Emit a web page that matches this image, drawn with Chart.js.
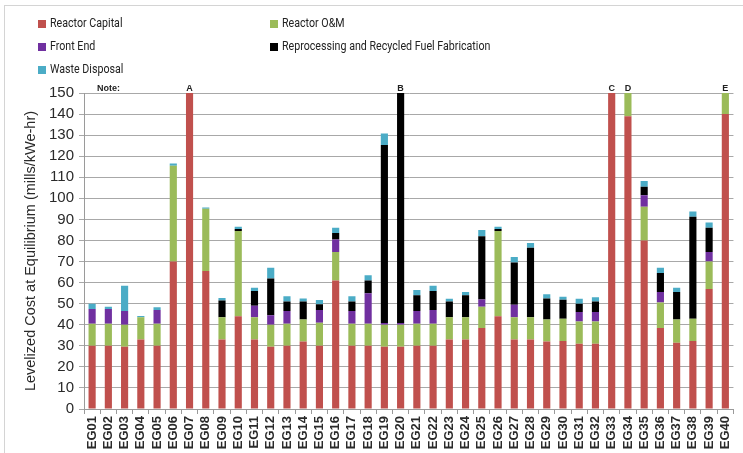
<!DOCTYPE html>
<html>
<head>
<meta charset="utf-8">
<script src="https://cdn.jsdelivr.net/npm/chart.js@4"></script>
<style>
html,body{margin:0;padding:0;background:#fff;}
#wrap{position:relative;width:743px;height:453px;}
</style>
</head>
<body>
<div id="wrap"><canvas id="c" width="743" height="453"></canvas></div>
<script>
const categories = ["EG01","EG02","EG03","EG04","EG05","EG06","EG07","EG08","EG09","EG10",
  "EG11","EG12","EG13","EG14","EG15","EG16","EG17","EG18","EG19","EG20",
  "EG21","EG22","EG23","EG24","EG25","EG26","EG27","EG28","EG29","EG30",
  "EG31","EG32","EG33","EG34","EG35","EG36","EG37","EG38","EG39","EG40"];
const seriesNames = ["Reactor Capital","Reactor O&M","Front End","Reprocessing and Recycled Fuel Fabrication","Waste Disposal"];
const seriesColors = ["#C0504D","#9BBB59","#7030A0","#000000","#4BACC6"];
const reactorCapital = [30,30,29.5,33,30,70,150,65.5,33,44, 33,29.5,30,32,30,61,30,30,29.5,29.5, 30,30,33,33,38.5,44,33,33,32,32.3, 31,31,150,139,80,38.5,31.5,32.3,57,140];
const reactorOM      = [10.5,10.5,10.5,10.5,10.5,45.5,0,29.5,10.5,40.5, 10.5,10.5,10.5,10.5,11,13.5,10.5,10.5,10.5,10.5, 10.5,10.5,10.5,10.5,10,40.5,10.5,10.5,10.5,10.5, 10.5,10.5,0,11,16,12,11,10.5,13,10];
const frontEnd       = [7,7,6.5,0,6.5,0,0,0,0,0, 5.5,4.5,6,0,6,6,6,14.5,0.8,0.8, 6,6.5,0,0,3.5,0,6,0,0,0, 4.5,4.5,0,0,5.5,5,0,0,4.5,0];
const reprocessing   = [0,0,0,0,0,0,0,0,8,1, 7,17.5,4.5,8.5,2.7,3,4.5,6,84.5,109.2, 7.5,9,7.5,10.5,30,1,20,33,10,9, 4,5,0,0,4,9,13,48.5,11.5,0];
const wasteDisposal  = [2.5,1,12,0.7,1.3,1,0,0.6,1.2,1, 1.5,5,2.5,1.5,2,2.5,2.5,2.5,5.5,0, 2.5,2.5,1.3,1.5,3,1,2.7,2.3,2,1.5, 2.3,2,0,0,2.7,2.5,2,2.5,2.5,0];
const yTicks = [0,10,20,30,40,50,60,70,80,90,100,110,120,130,140,150];
const noteCategories = ["EG07","EG20","EG33","EG34","EG40"];
const noteLetters = ["A","B","C","D","E"];
const noteTitle = "Note:";
const yTitle = "Levelized Cost at Equilibrium (mills/kWe-hr)";

const seriesData = [reactorCapital, reactorOM, frontEnd, reprocessing, wasteDisposal];

const decorPlugin = {
  id: 'decor',
  beforeDraw(chart) {
    const ctx = chart.ctx;
    ctx.save();
    ctx.fillStyle = '#fff';
    ctx.fillRect(0, 0, chart.width, chart.height);
    ctx.strokeStyle = '#d4d4d4';
    ctx.lineWidth = 1;
    ctx.strokeRect(4.5, 5.5, 760, 470);
    ctx.restore();
  },
  afterDraw(chart) {
    const ctx = chart.ctx;
    const xs = chart.scales.x;
    const top = chart.chartArea.top;
    ctx.save();
    // legend
    const legPos = [[38,24],[270,24],[38,47],[270,47],[38,70]];
    ctx.textBaseline = 'middle';
    ctx.textAlign = 'left';
    seriesNames.forEach((n, i) => {
      const [lx, ly] = legPos[i];
      ctx.fillStyle = seriesColors[i];
      ctx.fillRect(lx, ly - 4, 8, 8);
      ctx.fillStyle = '#222';
      ctx.save();
      ctx.translate(lx + 12, ly);
      ctx.scale(0.82, 1);
      ctx.font = '13px Roboto';
      ctx.fillText(n, 0, 0);
      ctx.restore();
    });
    // notes
    ctx.font = 'bold 9px "Liberation Sans"';
    ctx.fillStyle = '#222';
    ctx.textBaseline = 'alphabetic';
    ctx.textAlign = 'left';
    ctx.fillText(noteTitle, 97, top - 2);
    ctx.textAlign = 'center';
    noteCategories.forEach((c, i) => {
      const idx = categories.indexOf(c);
      ctx.fillText(noteLetters[i], xs.getPixelForValue(idx), top - 2);
    });
    ctx.restore();
  }
};

new Chart(document.getElementById('c'), {
  type: 'bar',
  data: {
    labels: categories,
    datasets: seriesNames.map((n, i) => ({
      label: n,
      data: seriesData[i],
      backgroundColor: seriesColors[i],
      borderWidth: 0,
      barPercentage: 0.44,
      categoryPercentage: 1.0
    }))
  },
  options: {
    responsive: false,
    devicePixelRatio: 1,
    animation: false,
    layout: { padding: { top: 93, right: 4, left: 0, bottom: 0 } },
    plugins: { legend: { display: false }, tooltip: { enabled: false } },
    scales: {
      x: {
        stacked: true,
        grid: { drawOnChartArea: false, drawTicks: true, tickLength: 5, color: '#9a9a9a', offset: true },
        border: { color: '#9a9a9a' },
        ticks: {
          autoSkip: false, minRotation: 90, maxRotation: 90, padding: 2,
          color: '#2a2a2a', font: { family: 'Liberation Sans', size: 13, weight: 'bold' }
        },
        afterFit(s) { s.height = 44; }
      },
      y: {
        stacked: true,
        min: 0, max: 150,
        afterBuildTicks(s) { s.ticks = yTicks.map(v => ({ value: v })); },
        grid: { color: '#a8a8a8', tickLength: 5 },
        border: { color: '#9a9a9a' },
        ticks: { color: '#2a2a2a', padding: 5, font: { family: 'Liberation Sans', size: 15 } },
        title: {
          display: true, text: yTitle, color: '#2a2a2a',
          font: { family: 'Liberation Sans', size: 14.5 },
          padding: { top: 22, bottom: 0 }
        },
        afterFit(s) { s.width = 84; }
      }
    }
  },
  plugins: [decorPlugin]
});
</script>
</body>
</html>
